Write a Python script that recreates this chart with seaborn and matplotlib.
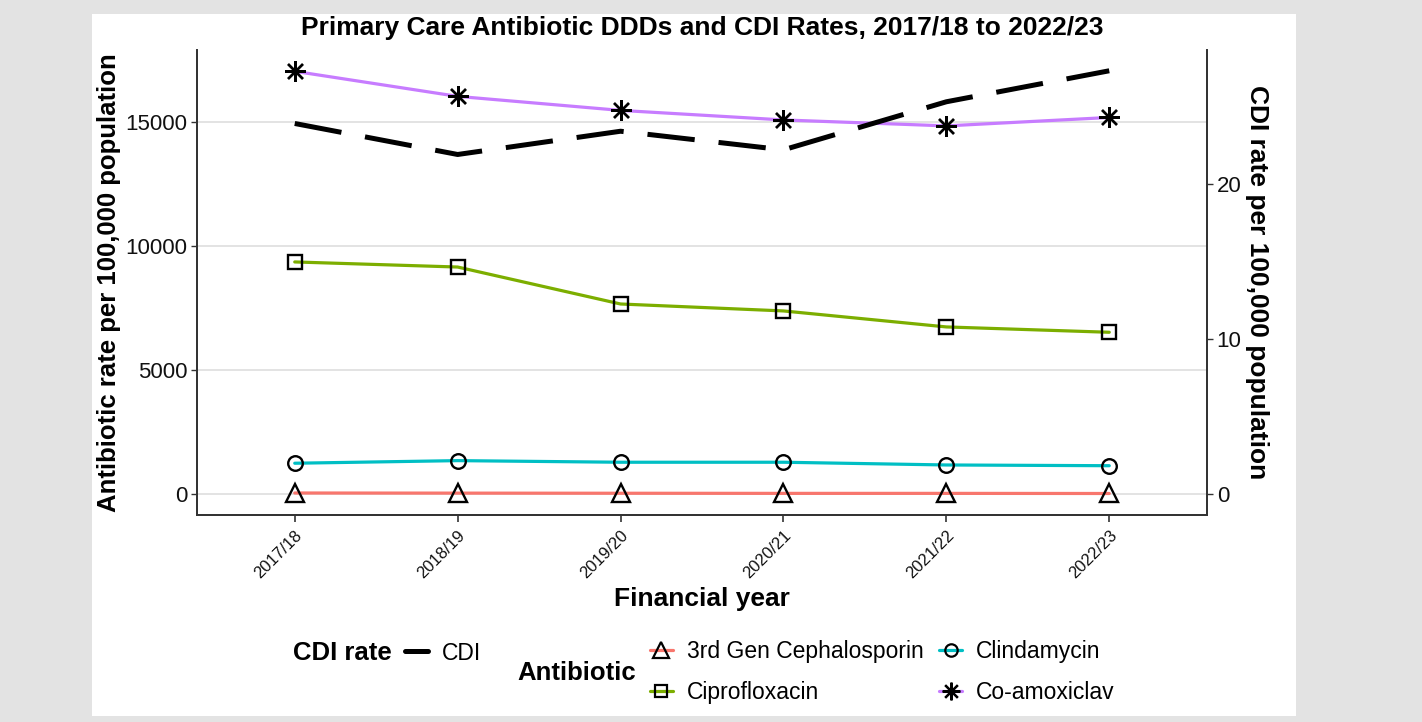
import numpy as np
import pandas as pd
import seaborn as sns
import matplotlib.pyplot as plt
from matplotlib.lines import Line2D
from matplotlib.patches import Rectangle

years = ["2017/18", "2018/19", "2019/20", "2020/21", "2021/22", "2022/23"]
antibiotics = ["3rd Gen Cephalosporin", "Ciprofloxacin", "Clindamycin", "Co-amoxiclav"]
ceph = [40, 35, 30, 25, 25, 20]
cipro = [9355, 9150, 7660, 7380, 6735, 6520]
clinda = [1240, 1345, 1280, 1280, 1170, 1140]
coamox = [17040, 16030, 15465, 15080, 14840, 15180]
cdi = [23.9, 21.9, 23.4, 22.2, 25.3, 27.3]

colours = ["#F8766D", "#7CAE00", "#00BFC4", "#C77CFF"]
shapes = ["^", "s", "o", (8, 2, 0)]
msizes = [13, 10.5, 10.5, 15]
scale = 625.0

df = pd.DataFrame({
    "year": years * 4,
    "x": list(range(len(years))) * 4,
    "antibiotic": np.repeat(antibiotics, len(years)),
    "rate": ceph + cipro + clinda + coamox,
})
cdi_df = pd.DataFrame({"year": years, "x": range(len(years)), "cdi": cdi})

sns.set_theme(style="white")
plt.rcParams["font.family"] = ["Liberation Sans", "DejaVu Sans"]
plt.rcParams["text.color"] = "black"
plt.rcParams["axes.labelcolor"] = "black"

fig = plt.figure(figsize=(14.22, 7.22), dpi=100)
fig.patch.set_facecolor("#e3e3e3")
fig.patches.append(Rectangle((92 / 1422, 6 / 722), 1204 / 1422, 702 / 722,
                             transform=fig.transFigure, facecolor="white",
                             edgecolor="none", zorder=-10))

ax = fig.add_axes([197 / 1422, 207 / 722, 1010 / 1422, 465 / 722])
ax.set_facecolor("none")

sns.lineplot(data=df, x="x", y="rate", hue="antibiotic", hue_order=antibiotics,
             palette=colours, linewidth=2.3, legend=False, ax=ax, zorder=2)
for name, shp, ms in zip(antibiotics, shapes, msizes):
    sub = df[df["antibiotic"] == name]
    ax.plot(sub["x"], sub["rate"], linestyle="none", marker=shp, markersize=ms,
            mfc="none", mec="black", mew=1.7, zorder=3)

ax.set_xlim(-0.6, 5.6)
ax.set_ylim(-847, 17900)
ax.set_yticks([0, 5000, 10000, 15000])
ax.set_yticklabels(["0", "5000", "10000", "15000"])
ax.set_xticks(range(len(years)))
ax.set_xticklabels(years, rotation=45, ha="right", rotation_mode="anchor", fontsize=12)
ax.tick_params(axis="y", labelsize=16, length=4, width=1, color="#333333", pad=3,
               labelcolor="#111111", left=True)
ax.tick_params(axis="x", length=5, width=1.2, color="#333333", pad=4,
               labelcolor="#111111", bottom=True)
ax.grid(axis="y", color="#dedede", linewidth=1.2)
ax.grid(axis="x", visible=False)
ax.spines["top"].set_visible(False)
for s in ["left", "bottom", "right"]:
    ax.spines[s].set_color("#333333")
    ax.spines[s].set_linewidth(1.3)
ax.set_xlabel("Financial year", fontsize=19, fontweight="bold", labelpad=4)
ax.set_ylabel("Antibiotic rate per 100,000 population", fontsize=18.5,
              fontweight="bold", labelpad=3)

ax2 = ax.twinx()
sns.lineplot(data=cdi_df, x="x", y="cdi", color="black", linewidth=3.6,
             ax=ax2, legend=False)
ax2.lines[0].set_dashes((9.5, 4.8))
ax2.set_ylim(-847 / scale, 17900 / scale)
ax2.set_yticks([0, 10, 20])
ax2.tick_params(axis="y", labelsize=16, length=4, width=1, color="#333333", pad=3,
                labelcolor="#111111", right=True)
ax2.spines["top"].set_visible(False)
for s in ["left", "bottom", "right"]:
    ax2.spines[s].set_color("#333333")
    ax2.spines[s].set_linewidth(1.3)
ax2.set_ylabel("CDI rate per 100,000 population", fontsize=19, fontweight="bold",
               rotation=270, va="center", ha="center")
ax2.yaxis.set_label_coords((1257 - 197) / 1010, 0.5)
ax2.grid(False)

fig.text(702 / 1422, 1 - 28 / 722,
         "Primary Care Antibiotic DDDs and CDI Rates, 2017/18 to 2022/23",
         ha="center", va="center", fontsize=19, fontweight="bold")

# legends
cdi_handle = [Line2D([], [], color="black", linewidth=3.6)]
leg1 = fig.legend(cdi_handle, ["CDI"], loc="center left",
                  bbox_to_anchor=(405 / 1422, 1 - 653 / 722), frameon=False,
                  fontsize=16.5, handlelength=1.0, handletextpad=0.6, borderpad=0,
                  borderaxespad=0)
fig.text(293 / 1422, 1 - 653 / 722, "CDI rate", ha="left", va="center",
         fontsize=18.5, fontweight="bold")

ab_handles = [Line2D([], [], color=c, linewidth=2.3, marker=m, markersize=ms * 0.85,
                     mfc="none", mec="black", mew=1.6)
              for c, m, ms in zip(colours, shapes, msizes)]
leg2 = fig.legend(ab_handles, antibiotics, loc="center left", ncol=2,
                  bbox_to_anchor=(650 / 1422, 1 - 672 / 722), frameon=False,
                  fontsize=16.5, handlelength=1.0, handletextpad=0.6, borderpad=0,
                  borderaxespad=0, columnspacing=0.7, labelspacing=0.75)
fig.text(517 / 1422, 1 - 673 / 722, "Antibiotic", ha="left", va="center",
         fontsize=18.5, fontweight="bold")

fig.savefig("out.png", dpi=100, facecolor=fig.get_facecolor())
